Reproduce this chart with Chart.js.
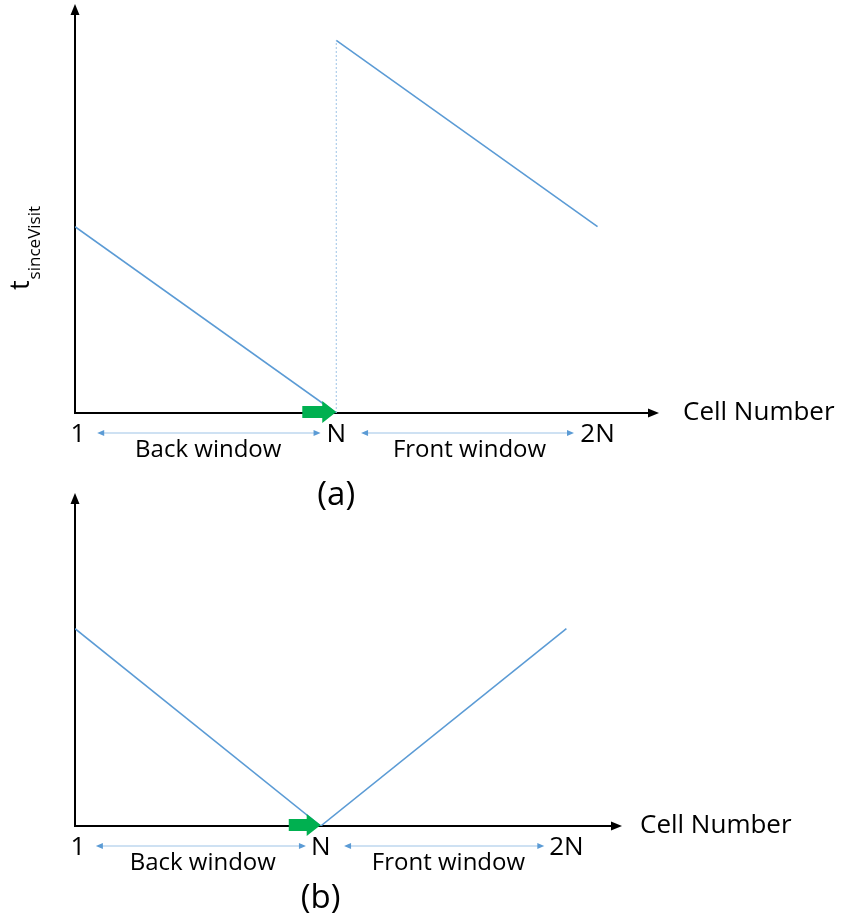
<!DOCTYPE html>
<html>
<head>
<meta charset="utf-8">
<script src="https://cdn.jsdelivr.net/npm/chart.js@4"></script>
<style>
  html, body { margin: 0; padding: 0; background: #fff; }
  #wrap { position: relative; width: 853px; height: 918px; }
  canvas { position: absolute; left: 0; }
  #chartA { top: 0; }
  #chartB { top: 480px; }
</style>
</head>
<body>
<div id="wrap">
  <canvas id="chartA" width="853" height="520"></canvas>
  <canvas id="chartB" width="853" height="438"></canvas>
</div>
<script>
// positions along the cell axis: 0 = cell 1, 1 = cell N, 2 = cell 2N
const tickValues = [0, 1, 2];
const tickLabels = ["1", "N", "2N"];
const windowLabels = ["Back window", "Front window"];
const windowCentersA = [0.51, 1.51];
const windowCentersB = [0.52, 1.52];
const windowArrows = [[0.085, 0.94], [1.095, 1.91]];
const moveArrow = [0.87, 1.0];

// (a) time since visit
const sinceVisitBackX = [0, 1];
const sinceVisitBackY = [4.6, 0];
const sinceVisitFrontX = [1, 2];
const sinceVisitFrontY = [9.2, 4.6];
const sinceVisitJumpX = [1, 1];
const sinceVisitJumpY = [0, 9.2];

// (b) time to cell
const toCellBackX = [0, 1];
const toCellBackY = [6, 0];
const toCellFrontX = [1, 2];
const toCellFrontY = [0, 6];

const FONT = "'Open Sans', sans-serif";
const LINE_BLUE = "#5b9bd5";
const LIGHT_BLUE = "#9dc3e6";
const GREEN = "#00b050";

const pts = (xs, ys) => xs.map((x, i) => ({ x, y: ys[i] }));

function lineSet(data, extra) {
  return Object.assign({
    data,
    borderColor: LINE_BLUE,
    borderWidth: 1.6,
    pointRadius: 0,
    fill: false,
    tension: 0,
  }, extra || {});
}

const diagramPlugin = {
  id: "diagram",
  afterDatasetsDraw(chart, args, opts) {
    const ctx = chart.ctx;
    const xs = chart.scales.x;
    const ys = chart.scales.y;
    const axisY = ys.getPixelForValue(0);
    const axisX = xs.getPixelForValue(0);
    ctx.save();

    // axis arrowheads
    ctx.fillStyle = "#000";
    const xEnd = xs.getPixelForValue(xs.max);
    ctx.beginPath();
    ctx.moveTo(xEnd + 4, axisY);
    ctx.lineTo(xEnd - 7, axisY - 4.5);
    ctx.lineTo(xEnd - 7, axisY + 4.5);
    ctx.closePath();
    ctx.fill();
    const yEnd = ys.getPixelForValue(ys.max);
    ctx.beginPath();
    ctx.moveTo(axisX, yEnd - 4);
    ctx.lineTo(axisX - 4.5, yEnd + 7);
    ctx.lineTo(axisX + 4.5, yEnd + 7);
    ctx.closePath();
    ctx.fill();

    // green move arrow on the axis
    const g0 = xs.getPixelForValue(moveArrow[0]);
    const g1 = xs.getPixelForValue(moveArrow[1]);
    const head = 14;
    const cy = axisY - 1;
    ctx.fillStyle = GREEN;
    ctx.beginPath();
    ctx.moveTo(g0, cy - 6);
    ctx.lineTo(g1 - head, cy - 6);
    ctx.lineTo(g1 - head, cy - 11);
    ctx.lineTo(g1, cy);
    ctx.lineTo(g1 - head, cy + 11);
    ctx.lineTo(g1 - head, cy + 6);
    ctx.lineTo(g0, cy + 6);
    ctx.closePath();
    ctx.fill();

    // axis title
    ctx.fillStyle = "#000";
    ctx.textBaseline = "middle";
    ctx.textAlign = "left";
    ctx.font = "26px " + FONT;
    ctx.fillText("Cell Number", xEnd + opts.titleGap, axisY);

    // tick labels
    ctx.font = "26px " + FONT;
    ctx.textAlign = "center";
    tickValues.forEach((v, i) => {
      ctx.fillText(tickLabels[i], xs.getPixelForValue(v) + (i === 0 ? 3 : 0), axisY + 22);
    });

    // window double arrows
    const arrowY = axisY + 20;
    windowArrows.forEach(([a, b]) => {
      const p0 = xs.getPixelForValue(a);
      const p1 = xs.getPixelForValue(b);
      ctx.strokeStyle = LIGHT_BLUE;
      ctx.lineWidth = 1;
      ctx.beginPath();
      ctx.moveTo(p0 + 4, arrowY);
      ctx.lineTo(p1 - 4, arrowY);
      ctx.stroke();
      ctx.fillStyle = LINE_BLUE;
      ctx.beginPath();
      ctx.moveTo(p0, arrowY);
      ctx.lineTo(p0 + 7, arrowY - 3);
      ctx.lineTo(p0 + 7, arrowY + 3);
      ctx.closePath();
      ctx.fill();
      ctx.beginPath();
      ctx.moveTo(p1, arrowY);
      ctx.lineTo(p1 - 7, arrowY - 3);
      ctx.lineTo(p1 - 7, arrowY + 3);
      ctx.closePath();
      ctx.fill();
    });

    // window labels
    ctx.fillStyle = "#000";
    ctx.font = "24px " + FONT;
    opts.windowCenters.forEach((c, i) => {
      ctx.fillText(windowLabels[i], xs.getPixelForValue(c), axisY + 37);
    });

    // panel label
    ctx.font = "33px " + FONT;
    ctx.fillText(opts.panel, xs.getPixelForValue(1), axisY + opts.panelOffset);

    // y title with subscript, rotated
    ctx.translate(opts.titleX, opts.titleY);
    ctx.rotate(-Math.PI / 2);
    ctx.textAlign = "left";
    ctx.textBaseline = "alphabetic";
    ctx.font = "27px " + FONT;
    ctx.fillText("t", 0, 0);
    const tw = ctx.measureText("t").width;
    ctx.font = "17px " + FONT;
    ctx.fillText(opts.sub, tw + 1, 11);

    ctx.restore();
  },
};

function makeChart(id, datasets, xMax, pad, opts) {
  return new Chart(document.getElementById(id), {
    type: "line",
    data: { datasets },
    options: {
      responsive: false,
      animation: false,
      events: [],
      layout: { padding: pad },
      plugins: {
        legend: { display: false },
        tooltip: { enabled: false },
        diagram: opts,
      },
      scales: {
        x: {
          type: "linear",
          min: 0,
          max: xMax,
          grid: { display: false },
          border: { display: true, color: "#000", width: 2 },
          ticks: { display: false },
        },
        y: {
          type: "linear",
          min: 0,
          max: 10,
          grid: { display: false },
          border: { display: true, color: "#000", width: 2 },
          ticks: { display: false },
        },
      },
    },
    plugins: [diagramPlugin],
  });
}

makeChart("chartA", [
  lineSet(pts(sinceVisitJumpX, sinceVisitJumpY), { borderColor: LIGHT_BLUE, borderWidth: 1, borderDash: [2, 2] }),
  lineSet(pts(sinceVisitBackX, sinceVisitBackY)),
  lineSet(pts(sinceVisitFrontX, sinceVisitFrontY)),
], 2.22, { left: 67, right: 198, top: 8, bottom: 99 }, {
  panel: "(a)", panelOffset: 83, windowCenters: windowCentersA, titleGap: 28,
  sub: "sinceVisit", titleX: 29, titleY: 290,
});

makeChart("chartB", [
  lineSet(pts(toCellBackX, toCellBackY)),
  lineSet(pts(toCellFrontX, toCellFrontY)),
], 2.21, { left: 67, right: 235, top: 17, bottom: 84 }, {
  panel: "(b)", panelOffset: 73, windowCenters: windowCentersB, titleGap: 22,
  sub: "toCell", titleX: 32, titleY: 686,
});
</script>
</body>
</html>
